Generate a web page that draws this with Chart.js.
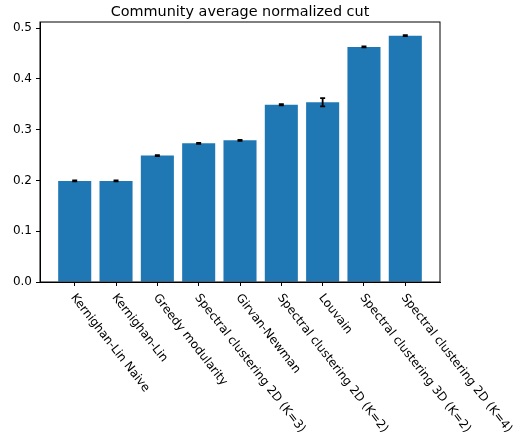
<!DOCTYPE html>
<html>
<head>
<meta charset="utf-8">
<script src="https://cdn.jsdelivr.net/npm/chart.js@4/dist/chart.umd.min.js"></script>
<style>
  html, body { margin: 0; padding: 0; background: #fff; }
  #wrap { width: 517px; height: 444px; }
</style>
</head>
<body>
<div id="wrap"><canvas id="c" width="517" height="444"></canvas></div>
<script>
// Community detection methods and their average normalized cut (mean ± std)
const categories = [
  'Kernighan-Lin Naive',
  'Kernighan-Lin',
  'Greedy modularity',
  'Spectral clustering 2D (K=3)',
  'Girvan-Newman',
  'Spectral clustering 2D (K=2)',
  'Louvain',
  'Spectral clustering 3D (K=2)',
  'Spectral clustering 2D (K=4)'
];
const meanCut = [0.199, 0.199, 0.249, 0.273, 0.279, 0.349, 0.354, 0.463, 0.485];
const errCut  = [0.001, 0.001, 0.001, 0.001, 0.001, 0.001, 0.008, 0.001, 0.001];
const yTicks  = [0.0, 0.1, 0.2, 0.3, 0.4, 0.5];

const FONT = '"DejaVu Sans", "Liberation Sans", sans-serif';
const BAR_BLUE = '#1f77b4';

// Error bars with small caps
const errorBars = {
  id: 'errorBars',
  afterDatasetsDraw(chart) {
    const { ctx, scales: { x, y } } = chart;
    ctx.save();
    ctx.strokeStyle = '#000';
    ctx.lineWidth = 1.8;
    meanCut.forEach((v, i) => {
      const px = x.getPixelForValue(i);
      const top = y.getPixelForValue(v + errCut[i]);
      const bot = y.getPixelForValue(v - errCut[i]);
      ctx.beginPath();
      ctx.moveTo(px, top); ctx.lineTo(px, bot);
      ctx.moveTo(px - 2.5, top); ctx.lineTo(px + 2.5, top);
      ctx.moveTo(px - 2.5, bot); ctx.lineTo(px + 2.5, bot);
      ctx.stroke();
    });
    ctx.restore();
  }
};

// Axes frame, title and slanted category labels
const decorations = {
  id: 'decorations',
  afterDraw(chart) {
    const { ctx, chartArea: a, scales: { x } } = chart;
    ctx.save();
    ctx.strokeStyle = '#000';
    ctx.lineWidth = 1;
    ctx.strokeRect(a.left, a.top, a.right - a.left, a.bottom - a.top);

    ctx.fillStyle = '#000';
    ctx.font = '14.4px ' + FONT;
    ctx.textAlign = 'center';
    ctx.textBaseline = 'alphabetic';
    ctx.fillText('Community average normalized cut', (a.left + a.right) / 2, a.top - 6);

    ctx.font = '12px ' + FONT;
    ctx.textAlign = 'left';
    ctx.textBaseline = 'top';
    categories.forEach((label, i) => {
      const px = x.getPixelForValue(i);
      ctx.save();
      ctx.translate(px + 3, a.bottom + 10);
      ctx.rotate(52 * Math.PI / 180);
      ctx.fillText(label, 0, 0);
      ctx.restore();
    });
    ctx.restore();
  }
};

new Chart(document.getElementById('c'), {
  type: 'bar',
  data: {
    datasets: [{
      data: meanCut.map((v, i) => ({ x: i, y: v })),
      backgroundColor: BAR_BLUE,
      borderWidth: 0,
      categoryPercentage: 1.0,
      barPercentage: 0.8
    }]
  },
  options: {
    responsive: false,
    animation: false,
    devicePixelRatio: 1,
    layout: { padding: { left: 0, right: 77, top: 22, bottom: 0 } },
    plugins: {
      legend: { display: false },
      title: { display: false },
      tooltip: { enabled: false }
    },
    scales: {
      x: {
        type: 'linear',
        offset: false,
        min: -0.84,
        max: 8.84,
        afterBuildTicks(scale) { scale.ticks = categories.map((_, i) => ({ value: i })); },
        afterFit(scale) { scale.height = 162; },
        grid: { offset: false, drawOnChartArea: false, drawTicks: true, tickLength: 4, tickColor: '#000', tickWidth: 1 },
        border: { display: true, color: '#000', width: 1 },
        ticks: { display: false }
      },
      y: {
        type: 'linear',
        min: 0,
        max: 0.512,
        afterBuildTicks(scale) { scale.ticks = yTicks.map(v => ({ value: v })); },
        afterFit(scale) { scale.width = 40; },
        grid: { drawOnChartArea: false, drawTicks: true, tickLength: 4, tickColor: '#000', tickWidth: 1 },
        border: { display: true, color: '#000', width: 1 },
        ticks: {
          padding: 4,
          color: '#000',
          font: { family: FONT, size: 12 },
          callback: v => Number(v).toFixed(1)
        }
      }
    }
  },
  plugins: [errorBars, decorations]
});
</script>
</body>
</html>
